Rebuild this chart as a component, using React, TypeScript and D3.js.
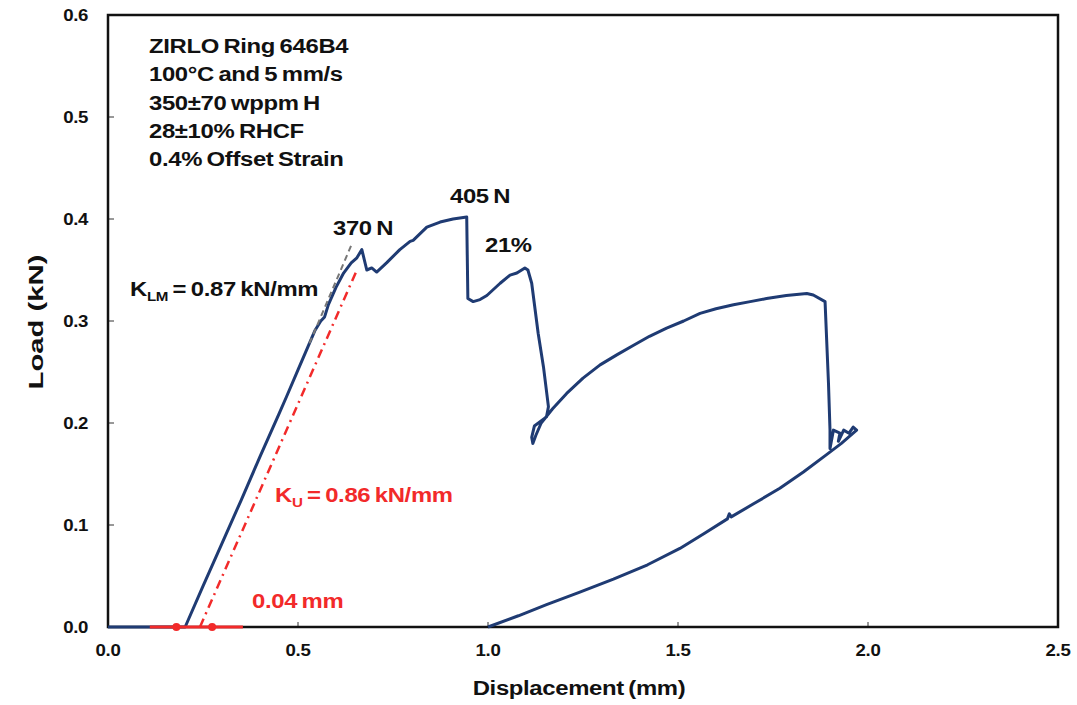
import * as d3 from "d3";
import React from "react";

// ring compression test curve
const dispMm = [
  0.0, 0.1, 0.203, 0.25, 0.3, 0.35, 0.4, 0.45, 0.47, 0.5, 0.545, 0.56, 0.57, 0.58, 0.6, 0.62, 0.64, 0.655, 0.668,
  0.681, 0.694, 0.707, 0.733, 0.768, 0.795, 0.803, 0.839, 0.874, 0.908, 0.944,
  0.947, 0.961, 0.979, 0.997, 1.032, 1.058, 1.076, 1.097, 1.105,
  1.115, 1.132, 1.146, 1.159, 1.154, 1.122, 1.115, 1.118, 1.126, 1.14,
  1.17, 1.207, 1.25, 1.295, 1.34, 1.382, 1.425, 1.47, 1.515, 1.558, 1.6, 1.646, 1.69, 1.733, 1.785, 1.839, 1.856, 1.887,
  1.896, 1.9, 1.9, 1.909, 1.926, 1.922, 1.936, 1.95, 1.961, 1.97,
  1.93, 1.891, 1.83, 1.768, 1.7, 1.64, 1.635, 1.63, 1.57, 1.505, 1.42, 1.33, 1.24, 1.154, 1.08, 1.0,
];
const loadKn = [
  0.0, 0.0, 0.0, 0.04, 0.082, 0.124, 0.167, 0.209, 0.226, 0.252, 0.291, 0.3, 0.304, 0.316, 0.333, 0.347, 0.357, 0.362, 0.37,
  0.35, 0.352, 0.348, 0.357, 0.37, 0.378, 0.379, 0.392, 0.397, 0.4, 0.402,
  0.322, 0.319, 0.321, 0.325, 0.337, 0.345, 0.347, 0.352, 0.35,
  0.337, 0.288, 0.255, 0.216, 0.206, 0.197, 0.186, 0.18, 0.188, 0.2,
  0.214, 0.229, 0.244, 0.257, 0.267, 0.276, 0.285, 0.293, 0.3, 0.3075, 0.312, 0.316, 0.319, 0.322, 0.325, 0.327, 0.3255, 0.319,
  0.239, 0.193, 0.175, 0.193, 0.19, 0.182, 0.193, 0.19, 0.196, 0.193,
  0.18, 0.169, 0.152, 0.136, 0.121, 0.108, 0.111, 0.106, 0.092, 0.077, 0.061, 0.047, 0.034, 0.022, 0.011, 0.0,
];

// 0.4% offset line (K_U) and lower-middle tangent (K_LM)
const offsetDisp = [0.242, 0.655];
const offsetLoad = [0.0, 0.35];
const tangentDisp = [0.53, 0.64];
const tangentLoad = [0.278, 0.374];
const baseMarkDisp = [0.11, 0.355];
const offsetDotsDisp = [0.18, 0.274];

const xTicks = [0, 0.5, 1.0, 1.5, 2.0, 2.5];
const yTicks = [0, 0.1, 0.2, 0.3, 0.4, 0.5, 0.6];

const infoLines = [
  "ZIRLO Ring 646B4",
  "100°C and 5 mm/s",
  "350±70 wppm H",
  "28±10% RHCF",
  "0.4% Offset Strain",
];

const FONT = "'Liberation Sans', Arial, sans-serif";
const BLUE = "#1f3b73";
const RED = "#f22a2a";
const SX = 1.165;

function Label(props: { x: number; y: number; size?: number; fill?: string; anchor?: string; children: React.ReactNode }) {
  const { x, y, size = 20.5, fill = "#111", anchor = "start", children } = props;
  return (
    <text
      transform={`translate(${x},${y}) scale(${SX},1)`}
      fontFamily={FONT}
      fontWeight="bold"
      fontSize={size}
      fill={fill}
      textAnchor={anchor}
      letterSpacing={-0.3}
      wordSpacing={-1.5}
    >
      {children}
    </text>
  );
}

export default function App() {
  const width = 1077,
    height = 705;
  const x = d3.scaleLinear().domain([0, 2.5]).range([108, 1058]);
  const y = d3.scaleLinear().domain([0, 0.6]).range([627, 15]);

  const curve = d3
    .line<[number, number]>()
    .x((d) => x(d[0]))
    .y((d) => y(d[1]));

  const mainPts = dispMm.map((d, i) => [d, loadKn[i]] as [number, number]);
  const offsetPts = offsetDisp.map((d, i) => [d, offsetLoad[i]] as [number, number]);
  const tangentPts = tangentDisp.map((d, i) => [d, tangentLoad[i]] as [number, number]);
  const basePts = baseMarkDisp.map((d) => [d, 0] as [number, number]);

  return (
    <svg width={width} height={height} style={{ position: "absolute", left: 0, top: 0, background: "#fff" }}>
      <rect x={0} y={0} width={width} height={height} fill="#fff" />

      {/* ticks */}
      {xTicks.slice(1, -1).map((t) => (
        <line key={"xt" + t} x1={x(t)} x2={x(t)} y1={y(0)} y2={y(0) - 5} stroke="#333" strokeWidth={1} />
      ))}
      {yTicks.slice(1, -1).map((t) => (
        <line key={"yt" + t} x1={x(0)} x2={x(0) + 6} y1={y(t)} y2={y(t)} stroke="#333" strokeWidth={1} />
      ))}

      {/* frame */}
      <rect x={x(0)} y={y(0.6)} width={x(2.5) - x(0)} height={y(0) - y(0.6)} fill="none" stroke="#111" strokeWidth={2.5} />

      {/* tick labels */}
      {xTicks.map((t) => (
        <Label key={"xl" + t} x={x(t)} y={656} size={16} anchor="middle">
          {t.toFixed(1)}
        </Label>
      ))}
      {yTicks.map((t) => (
        <Label key={"yl" + t} x={88} y={y(t) + 6} size={16} anchor="end">
          {t.toFixed(1)}
        </Label>
      ))}

      {/* axis titles */}
      <Label x={579} y={695} size={20.5} anchor="middle">
        Displacement (mm)
      </Label>
      <text
        transform="translate(43,322) rotate(-90)"
        fontFamily={FONT}
        fontWeight="bold"
        fontSize={21}
        fill="#111"
        textAnchor="middle"
        textLength={135}
        lengthAdjust="spacingAndGlyphs"
      >
        Load (kN)
      </text>

      {/* test curve */}
      <path d={curve(mainPts) || ""} fill="none" stroke={BLUE} strokeWidth={3} strokeLinejoin="round" />

      {/* offset construction */}
      <path d={curve(basePts) || ""} fill="none" stroke={RED} strokeWidth={3} />
      <path d={curve(offsetPts) || ""} fill="none" stroke={RED} strokeWidth={2.5} strokeDasharray="9,5,2,5" />
      <path d={curve(tangentPts) || ""} fill="none" stroke="#777" strokeWidth={2} strokeDasharray="6,4" />
      {offsetDotsDisp.map((d) => (
        <circle key={"dot" + d} cx={x(d)} cy={y(0)} r={4} fill={RED} />
      ))}

      {/* annotations */}
      {infoLines.map((s, i) => (
        <Label key={s} x={149} y={53 + i * 28.3}>
          {s}
        </Label>
      ))}
      <Label x={333} y={235}>370 N</Label>
      <Label x={450} y={203}>405 N</Label>
      <Label x={485} y={252}>21%</Label>
      <Label x={130} y={296}>
        K
        <tspan fontSize={13} dy={5}>
          LM
        </tspan>
        <tspan dy={-5}> = 0.87 kN/mm</tspan>
      </Label>
      <Label x={275} y={502} fill={RED}>
        K
        <tspan fontSize={13} dy={5}>
          U
        </tspan>
        <tspan dy={-5}> = 0.86 kN/mm</tspan>
      </Label>
      <Label x={252} y={608} fill={RED}>
        0.04 mm
      </Label>
    </svg>
  );
}
